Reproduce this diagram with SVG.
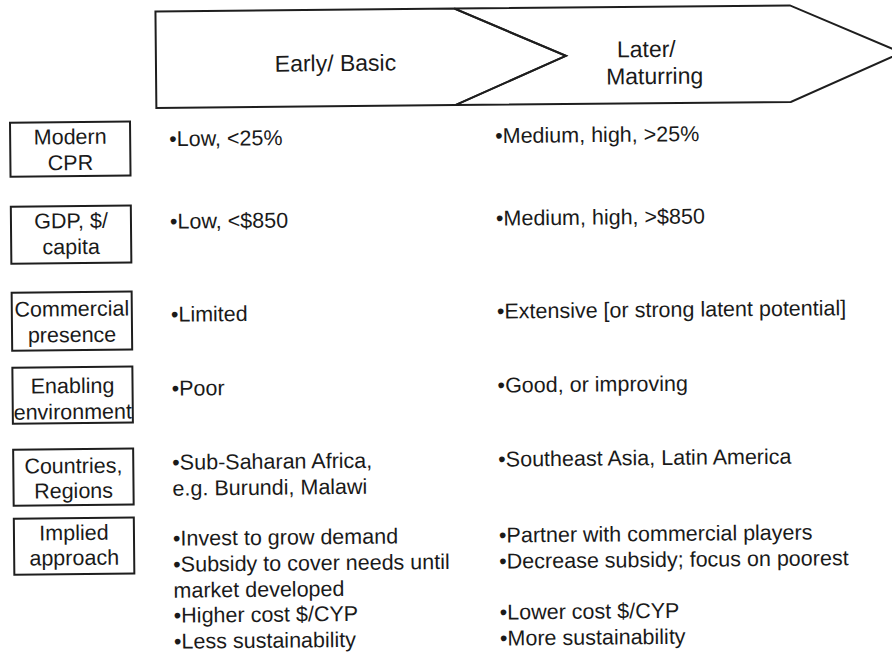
<svg xmlns="http://www.w3.org/2000/svg" width="892" height="656" viewBox="0 0 892 656">
<style>
.shape{fill:none;stroke:#1e1e1e;stroke-width:2;stroke-linejoin:miter}
.box{fill:none;stroke:#1e1e1e;stroke-width:2}
.lbl{font-family:"Liberation Sans",Arial,Helvetica,sans-serif;font-size:21.5px;fill:#1a1a1a;text-anchor:middle}
.hdr{font-family:"Liberation Sans",Arial,Helvetica,sans-serif;font-size:23px;fill:#1a1a1a}
.txt{font-family:"Liberation Sans",Arial,Helvetica,sans-serif;font-size:21.5px;fill:#1a1a1a}
</style>
<rect width="892" height="656" fill="#ffffff"/>
<g transform="rotate(-0.55 446 328)">
<g id="stage-early">
<path class="shape" d="M158.5,8.7 L457.5,8.7 L568.5,57 L457.5,105.2 L158.5,105.2 Z"/>
<text class="hdr" x="338" y="70" text-anchor="middle">Early/ Basic</text>
</g>
<g id="stage-later">
<path class="shape" d="M457.5,8.7 L793,8.7 L904,57 L793,105.2 L457.5,105.2 L568.5,57 Z"/>
<text class="hdr" x="619.5" y="59">Later/</text>
<text class="hdr" x="608.5" y="86">Maturring</text>
</g>
<g id="row-cpr">
<rect class="box" x="12" y="118.5" width="120" height="54"/>
<text class="lbl" x="72" y="140.5">Modern</text>
<text class="lbl" x="72" y="166.5">CPR</text>
<text class="txt" x="171" y="143.5">•Low, &lt;25%</text>
<text class="txt" x="497" y="143.5">•Medium, high, &gt;25%</text>
</g>
<g id="row-gdp">
<rect class="box" x="12" y="202.5" width="120" height="57"/>
<text class="lbl" x="72" y="224.5">GDP, $/</text>
<text class="lbl" x="72" y="250.5">capita</text>
<text class="txt" x="171" y="226">•Low, &lt;$850</text>
<text class="txt" x="497" y="226">•Medium, high, &gt;$850</text>
</g>
<g id="row-commercial">
<rect class="box" x="12" y="288.5" width="120" height="58"/>
<text class="lbl" x="72" y="312.5">Commercial</text>
<text class="lbl" x="72" y="338.5">presence</text>
<text class="txt" x="171" y="319">•Limited</text>
<text class="txt" x="497" y="319">•Extensive [or strong latent potential]</text>
</g>
<g id="row-enabling">
<rect class="box" x="12" y="363.5" width="120" height="56"/>
<text class="lbl" x="72" y="389.5">Enabling</text>
<text class="lbl" x="72" y="415.5">environment</text>
<text class="txt" x="171" y="393">•Poor</text>
<text class="txt" x="497" y="393">•Good, or improving</text>
</g>
<g id="row-countries">
<rect class="box" x="12" y="445.5" width="120" height="56"/>
<text class="lbl" x="72" y="469.5">Countries,</text>
<text class="lbl" x="72" y="494.5">Regions</text>
<text class="txt" x="171" y="467">•Sub-Saharan Africa,</text>
<text class="txt" x="171" y="493">e.g. Burundi, Malawi</text>
<text class="txt" x="497" y="467">•Southeast Asia, Latin America</text>
</g>
<g id="row-approach">
<rect class="box" x="12" y="514.5" width="120" height="56"/>
<text class="lbl" x="72" y="536.5">Implied</text>
<text class="lbl" x="72" y="561.5">approach</text>
<text class="txt" x="171" y="543">•Invest to grow demand</text>
<text class="txt" x="171" y="569">•Subsidy to cover needs until</text>
<text class="txt" x="171" y="595">market developed</text>
<text class="txt" x="171" y="620">•Higher cost $/CYP</text>
<text class="txt" x="171" y="646">•Less sustainability</text>
<text class="txt" x="497" y="543">•Partner with commercial players</text>
<text class="txt" x="497" y="569">•Decrease subsidy; focus on poorest</text>
<text class="txt" x="497" y="620">•Lower cost $/CYP</text>
<text class="txt" x="497" y="646">•More sustainability</text>
</g>
</g>
</svg>
